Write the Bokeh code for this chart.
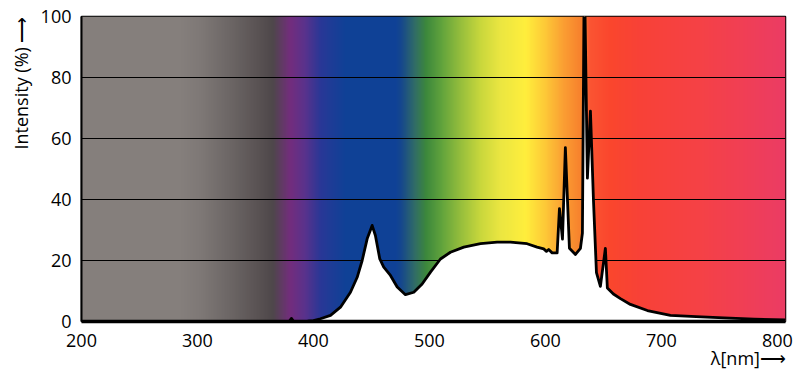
import numpy as np
from bokeh.plotting import figure
from bokeh.models import Range1d, FixedTicker, Title
from bokeh.embed import file_html
from bokeh.resources import INLINE

# ---- data ----
wavelength = [200, 379, 381, 383, 395, 400, 406, 414.7, 423.3, 431.9, 437.7, 442.0,
              446.3, 450.6, 453.4, 457.2, 460.6, 466.4, 472.2, 479.3, 486.5, 493.7,
              500.9, 509.5, 518.1, 529.6, 544.0, 558.4, 569.8, 584.2, 592.8, 598.5,
              600.9, 602.8, 605.8, 610.1, 612.1, 614.7, 617.2, 620.7, 625.9, 630.2,
              631.9, 633.3, 634.0, 636.2, 638.8, 641.4, 644.0, 647.4, 651.7, 653.4,
              658.6, 664.7, 673.3, 687.9, 707.8, 730, 754, 780, 807]
intensity = [0, 0, 1.0, 0, 0.1, 0.3, 0.9, 2.0, 4.7, 9.6, 14.5, 20,
             27.1, 31.5, 28.2, 20.5, 17.8, 15.1, 11.3, 8.8, 9.6, 12.3,
             16.2, 20.5, 22.7, 24.4, 25.5, 26, 26, 25.5, 24.4, 23.8,
             23, 23.6, 22.5, 22.5, 37, 27, 57, 24, 22, 24,
             29, 105, 105, 47, 69, 40, 16, 11.5, 24, 11,
             9, 7.5, 5.6, 3.6, 2, 1.6, 1.2, 0.8, 0.5]
x_ticks = [200, 300, 400, 500, 600, 700, 800]
y_ticks = [0, 20, 40, 60, 80, 100]
grid_ticks = [20, 40, 60, 80]
x_label = "λ[nm]\u27f6"
x_label_at = 775
y_label = "Intensity (%) \u27f6"

# ---- background spectrum colour stops (style) ----
stop_nm = [200, 285, 303, 328, 354, 365, 380, 393, 406, 415, 428, 471, 476, 488,
           497, 510, 527, 544, 561, 583, 600, 617, 630, 634, 638, 656, 682, 734, 807]
stop_rgb = [(133, 127, 124), (133, 127, 124), (126, 120, 118), (108, 102, 101),
            (88, 81, 82), (78, 71, 74), (115, 45, 125), (88, 50, 140), (42, 55, 150),
            (30, 60, 150), (15, 65, 150), (15, 65, 150), (22, 72, 140), (50, 110, 100),
            (60, 135, 60), (95, 162, 60), (150, 190, 60), (200, 215, 60), (235, 230, 65),
            (255, 238, 60), (253, 200, 55), (250, 155, 50), (247, 130, 45), (247, 125, 45),
            (250, 85, 50), (250, 70, 45), (248, 65, 55), (245, 65, 70), (235, 60, 100)]

X0, X1 = 200, 807
ncol = (X1 - X0) * 2
cols = X0 + (np.arange(ncol) + 0.5) * (X1 - X0) / ncol
img = np.empty((1, ncol), dtype=np.uint32)
view = img.view(dtype=np.uint8).reshape((1, ncol, 4))
for ch in range(3):
    view[0, :, ch] = np.round(np.interp(cols, stop_nm, [c[ch] for c in stop_rgb])).astype(np.uint8)
view[0, :, 3] = 255

FONT = "Open Sans"

p = figure(width=800, height=375, output_backend="svg", toolbar_location=None,
           x_range=Range1d(X0, X1), y_range=Range1d(0, 100),
           min_border_left=81, min_border_right=15, min_border_top=16, min_border_bottom=54)
p.background_fill_color = "white"
p.border_fill_color = "white"
p.outline_line_color = "black"
p.outline_line_width = 1.5

bg = p.image_rgba(image=[img], x=X0, y=0, dw=X1 - X0, dh=100)
bg.level = "image"

p.varea(x=wavelength, y1=0, y2=intensity, fill_color="white")
p.line(x=wavelength, y=intensity, line_color="black", line_width=2.8, line_join="round")

p.xgrid.visible = False
p.ygrid.ticker = FixedTicker(ticks=grid_ticks)
p.ygrid.grid_line_color = "black"
p.ygrid.grid_line_width = 1
p.ygrid.grid_line_alpha = 1

for ax in (p.xaxis, p.yaxis):
    ax.major_tick_line_color = None
    ax.minor_tick_line_color = None
    ax.major_tick_out = 0
    ax.major_tick_in = 0
    ax.minor_tick_out = 0
    ax.minor_tick_in = 0
    ax.major_label_text_font = FONT
    ax.major_label_text_font_size = "18px"
    ax.major_label_text_color = "black"
    ax.axis_line_color = "black"
p.yaxis.ticker = FixedTicker(ticks=y_ticks)
p.xaxis.ticker = FixedTicker(ticks=x_ticks + [x_label_at])
p.xaxis.major_label_overrides = {x_label_at: " \n" + x_label}
p.xaxis.major_label_text_line_height = 0.78
p.xaxis.axis_line_width = 3.5
p.yaxis.axis_line_width = 2
p.xaxis.major_label_standoff = 6
p.yaxis.major_label_standoff = 10

p.add_layout(Title(text=y_label, align="right", text_font=FONT, text_font_size="18px",
                   text_font_style="normal", text_color="black"), "left")

open("out.html", "w").write(file_html(p, INLINE))
